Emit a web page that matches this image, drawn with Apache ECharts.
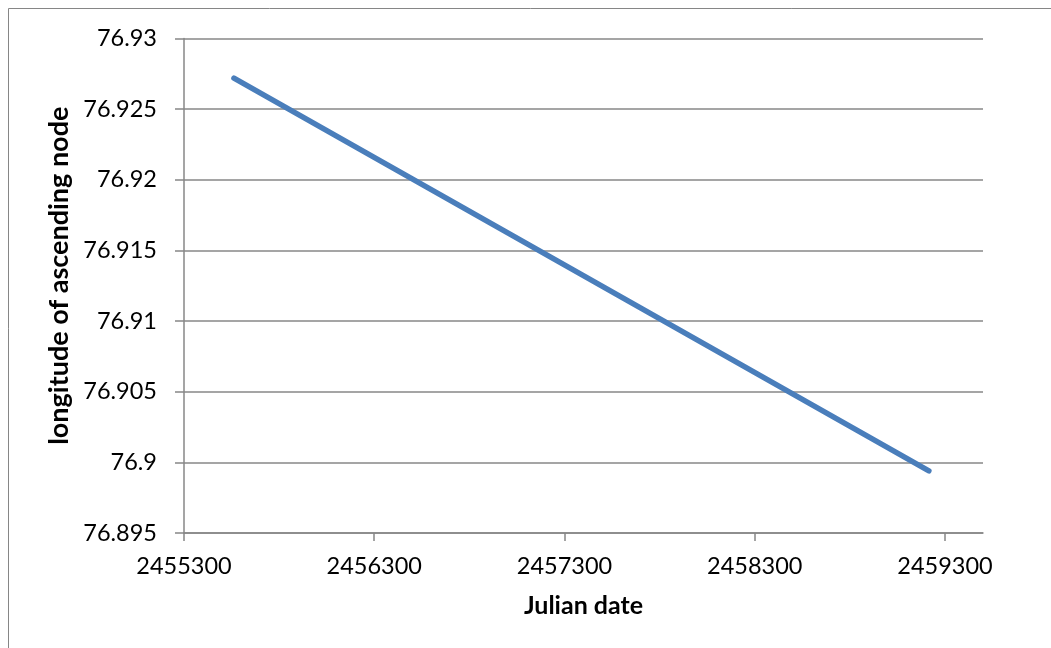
<!DOCTYPE html>
<html>
<head>
<meta charset="utf-8">
<style>
  html, body { margin: 0; padding: 0; background: #fff; }
  #chart { width: 1051px; height: 648px; }
</style>
<script src="https://cdn.jsdelivr.net/npm/echarts@6/dist/echarts.min.js"></script>
</head>
<body>
<div id="chart"></div>
<script>
// Julian date of each sample and the longitude of the ascending node (degrees)
const julianDates = [2455562.5, 2459215.5];
const nodeLongitude = [76.9272, 76.8994];

// Axis tick values
const xTicks = [2455300, 2456300, 2457300, 2458300, 2459300];
const yTicks = [76.895, 76.9, 76.905, 76.91, 76.915, 76.92, 76.925, 76.93];

const FONT = 'Lato, "Open Sans", sans-serif';
const GRID_GREY = '#878787';

const chart = echarts.init(document.getElementById('chart'), null, { renderer: 'canvas' });

chart.setOption({
  animation: false,
  backgroundColor: '#ffffff',
  graphic: [{
    type: 'rect',
    shape: { x: 8.5, y: 8.5, width: 1100, height: 700 },
    style: { fill: 'none', stroke: '#868686', lineWidth: 1 },
    silent: true
  }],
  grid: { left: 184, top: 38.5, right: 68, bottom: 115 },
  xAxis: {
    type: 'value',
    min: 2455300,
    max: 2459500,
    interval: 1000,
    name: 'Julian date',
    nameLocation: 'middle',
    nameGap: 60,
    nameTextStyle: { fontFamily: FONT, fontWeight: 'bold', fontSize: 25, color: '#000' },
    axisLine: { show: true, onZero: false, lineStyle: { color: GRID_GREY, width: 1.5 } },
    axisTick: { show: true, length: 8, customValues: xTicks, lineStyle: { color: GRID_GREY, width: 1.5 } },
    axisLabel: {
      customValues: xTicks,
      margin: 21,
      fontFamily: FONT, fontSize: 23.5, color: '#000',
      formatter: v => String(v)
    },
    splitLine: { show: false }
  },
  yAxis: {
    type: 'value',
    min: 76.895,
    max: 76.93,
    interval: 0.005,
    name: 'longitude of ascending node',
    nameLocation: 'middle',
    nameGap: 110,
    nameRotate: 90,
    nameTextStyle: { fontFamily: FONT, fontWeight: 'bold', fontSize: 27, color: '#000', padding: [0, 0, 0, 20] },
    axisLine: { show: true, lineStyle: { color: GRID_GREY, width: 1.5 } },
    axisTick: { show: true, length: 9, lineStyle: { color: GRID_GREY, width: 1.5 } },
    axisLabel: {
      customValues: yTicks,
      margin: 27,
      fontFamily: FONT, fontSize: 23.5, color: '#000',
      formatter: v => String(parseFloat(v.toFixed(3)))
    },
    splitLine: { show: true, lineStyle: { color: GRID_GREY, width: 1.5 } }
  },
  series: [{
    type: 'line',
    data: julianDates.map((d, i) => [d, nodeLongitude[i]]),
    showSymbol: false,
    symbol: 'none',
    lineStyle: { color: '#4a7ebb', width: 5.5, cap: 'round' }
  }]
});
</script>
</body>
</html>
